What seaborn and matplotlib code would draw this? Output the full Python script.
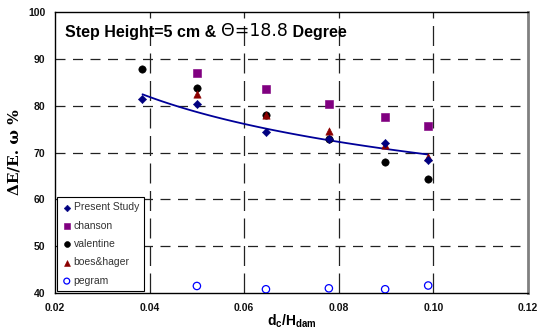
import numpy as np
import pandas as pd
import matplotlib
matplotlib.use("Agg")
import matplotlib.pyplot as plt
import seaborn as sns

# ---- data ----
x_vals = [0.0385, 0.050, 0.0646, 0.0779, 0.0898, 0.0989]
present_study = [81.4, 80.3, 74.3, 72.8, 72.0, 68.4]
chanson_x = [0.050, 0.0646, 0.0779, 0.0898, 0.0989]
chanson = [87.0, 83.5, 80.3, 77.6, 75.7]
valentine = [87.8, 83.8, 78.0, 72.9, 68.0, 64.3]
boes_x = [0.050, 0.0646, 0.0779, 0.0898, 0.0989]
boes_hager = [82.5, 78.0, 74.6, 71.6, 69.0]
pegram_x = [0.050, 0.0646, 0.0779, 0.0898, 0.0989]
pegram = [41.5, 40.8, 41.0, 40.8, 41.6]

xticks = [0.02, 0.04, 0.06, 0.08, 0.10, 0.12]
xtick_labels = ["0.02", "0.04", "0.06", "0.08", "0.10", "0.12"]
yticks = [40, 50, 60, 70, 80, 90, 100]

sns.set_theme(style="white")
plt.rcParams['font.family'] = ['Liberation Sans', 'DejaVu Sans']
plt.rcParams['text.color'] = 'black'
plt.rcParams['axes.labelcolor'] = 'black'

fig = plt.figure(figsize=(5.38, 3.31), dpi=100)
ax = fig.add_axes([0.1022, 0.1148, 0.8792, 0.8489])

# grid
for yv in [50, 60, 70, 80, 90]:
    ax.axhline(yv, color="#222222", lw=0.9, dashes=(8, 6), zorder=0)
for xv in [0.04, 0.06, 0.08, 0.10]:
    ax.axvline(xv, color="#222222", lw=0.9, dashes=(16, 6), zorder=0)

ms = 28
sns.scatterplot(x=x_vals, y=present_study, marker="D", color="#000080",
                edgecolor="#000080", s=18, label="Present Study", ax=ax, zorder=5)
sns.scatterplot(x=chanson_x, y=chanson, marker="s", color="#800080",
                edgecolor="#800080", s=ms, label="chanson", ax=ax, zorder=3)
sns.scatterplot(x=x_vals, y=valentine, marker="o", color="black",
                edgecolor="black", s=ms, label="valentine", ax=ax, zorder=3)
sns.scatterplot(x=boes_x, y=boes_hager, marker="^", color="#8B0000",
                edgecolor="#8B0000", s=ms, label="boes&hager", ax=ax, zorder=4)
sns.scatterplot(x=pegram_x, y=pegram, marker="o", color="#0000FF",
                facecolor="none", edgecolor="#0000FF", linewidth=0.9, s=ms,
                label="pegram", ax=ax, zorder=3)

# power trendline fitted to present study
b, lna = np.polyfit(np.log(x_vals), np.log(present_study), 1)
xf = np.linspace(min(x_vals), max(x_vals), 100)
yf = np.exp(lna) * xf ** b
sns.lineplot(x=xf, y=yf, color="#000099", lw=1.3, ax=ax, zorder=2, legend=False)

ax.set_xlim(0.02, 0.12)
ax.set_ylim(40, 100)
ax.set_xticks(xticks)
ax.set_xticklabels(xtick_labels)
ax.set_yticks(yticks)
ax.tick_params(axis="both", direction="out", length=3, width=1, colors="black",
               labelsize=7.5, pad=4)
for lab in ax.get_xticklabels() + ax.get_yticklabels():
    lab.set_fontweight("bold")
    lab.set_color("#111111")

for side in ["left", "bottom", "top"]:
    ax.spines[side].set_color("black")
    ax.spines[side].set_linewidth(1.0)
ax.spines["right"].set_color("#808080")
ax.spines["right"].set_linewidth(2.0)

ax.set_xlabel("d$_\\mathregular{c}$/H$_\\mathregular{dam}$", fontsize=10, fontweight="bold", labelpad=0)
ax.set_ylabel("ΔE/E. ω %", fontsize=11, fontweight="bold",
              family=["DejaVu Serif"], labelpad=5)

leg = ax.legend(loc="lower left", bbox_to_anchor=(0.004, 0.007), fontsize=7.5,
                frameon=True, fancybox=False, edgecolor="black", borderpad=0.5,
                labelspacing=0.8, handletextpad=0.2, handlelength=0.9,
                borderaxespad=0, markerscale=0.8, framealpha=1)
leg.get_frame().set_linewidth(0.8)
leg.set_zorder(10)
for t in leg.get_texts():
    t.set_color("#333333")

t1 = ax.text(0.0221, 95.7, "Step Height=5 cm & ", fontsize=11.5, fontweight="bold",
             va="center", ha="left", color="black")
t2 = ax.annotate("Θ=18.8", xy=(1, 0), xycoords=t1, va="bottom", ha="left",
                 fontsize=12.5, family=["DejaVu Sans"], fontweight="normal", color="black")
t3 = ax.annotate(" Degree", xy=(1, 0), xycoords=t2, va="bottom", ha="left",
                 fontsize=11.5, fontweight="bold", color="black")

fig.savefig("out.png", dpi=100)
